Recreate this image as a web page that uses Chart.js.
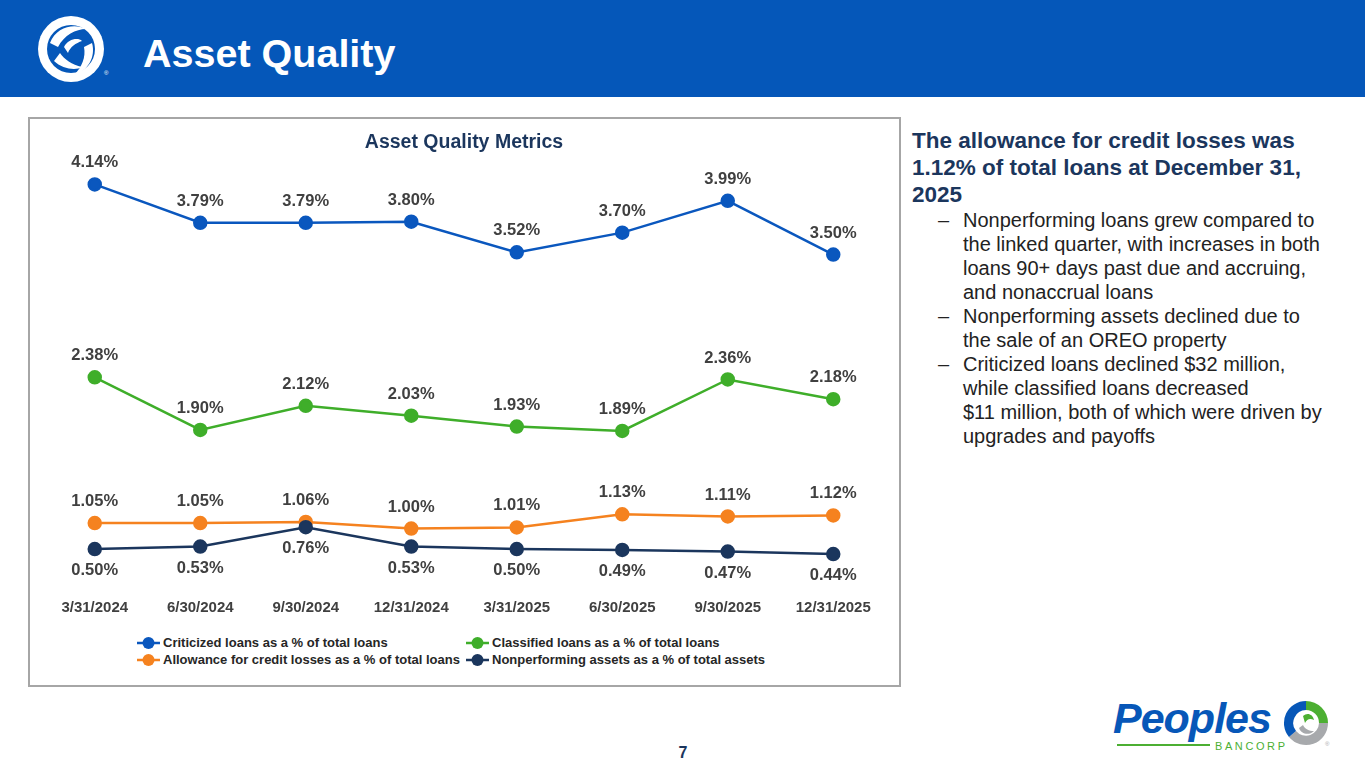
<!DOCTYPE html>
<html><head><meta charset="utf-8">
<script src="https://cdn.jsdelivr.net/npm/chart.js@4/dist/chart.umd.min.js"></script>
<style>
html,body{margin:0;padding:0;width:1365px;height:768px;overflow:hidden;background:#fff;font-family:"Liberation Sans",Arial,Helvetica,sans-serif;}
#header{position:absolute;left:0;top:0;width:1365px;height:97px;background:#0557B9;}
#htitle{position:absolute;left:143px;top:30px;font-size:39.5px;font-weight:bold;color:#fff;line-height:46px;white-space:nowrap;}
#logo{position:absolute;left:34px;top:13px;}
#box{position:absolute;left:28px;top:117px;width:869px;height:566px;border:2px solid #A6A6A6;}
#wrap{position:absolute;left:29px;top:118px;width:871px;height:513px;}
.lg{position:absolute;font-size:13px;font-weight:bold;color:#262626;white-space:nowrap;line-height:16px;}
.mk{position:absolute;width:23px;height:14px;}
#side{position:absolute;left:912px;top:127px;width:440px;}
#side .hd{font-size:22.5px;font-weight:bold;color:#1B365D;line-height:27px;white-space:nowrap;}
#side .bl{position:relative;font-size:20px;color:#222;line-height:24px;padding-left:51px;white-space:nowrap;}
#side .bl .d{position:absolute;left:26px;top:0;}
#pnum{position:absolute;left:676px;top:743px;width:14px;text-align:center;font-size:16px;font-weight:bold;color:#1B365D;line-height:20px;}
#peoples{position:absolute;left:1113px;top:694px;font-size:43px;font-weight:bold;font-style:italic;color:#0757B8;line-height:48px;letter-spacing:-1px;white-space:nowrap;}
#gline{position:absolute;left:1117px;top:744px;width:93px;height:2px;background:#4CAF32;}
#bancorp{position:absolute;left:1215px;top:739px;font-size:11px;color:#4CAF32;letter-spacing:2.6px;line-height:14px;white-space:nowrap;}
#icon{position:absolute;left:1281px;top:698px;}
</style></head>
<body>
<div id="header"></div>
<svg id="logo" width="76" height="72" viewBox="0 0 76 72">
  <circle cx="37" cy="36" r="33" fill="#fff"/>
  <circle cx="37" cy="36" r="24" fill="#0557B9"/>
  <g fill="#fff">
    <path d="M16 30 C22 14 40 10 52 16 C42 16 30 22 24 34 Z"/>
    <path d="M58 30 C62 44 54 58 40 62 C48 54 52 44 50 34 Z"/>
    <path d="M20 48 C28 56 42 58 48 54 C38 52 30 46 26 40 Z"/>
    <path d="M30 34 C34 26 44 24 48 28 C42 30 36 34 34 40 Z"/>
  </g>
  <text x="70" y="62" font-size="6" fill="#fff" font-family="Liberation Sans">®</text>
</svg>
<div id="htitle">Asset Quality</div>
<div id="box"></div>
<div id="wrap"><canvas id="c"></canvas></div>
<div id="legend"></div>
<div id="side">
  <div class="hd">The allowance for credit losses was<br>1.12% of total loans at December 31,<br>2025</div>
  <div class="bl"><span class="d">–</span>Nonperforming loans grew compared to<br>the linked quarter, with increases in both<br>loans 90+ days past due and accruing,<br>and nonaccrual loans</div>
  <div class="bl"><span class="d">–</span>Nonperforming assets declined due to<br>the sale of an OREO property</div>
  <div class="bl"><span class="d">–</span>Criticized loans declined $32 million,<br>while classified loans decreased<br>$11 million, both of which were driven by<br>upgrades and payoffs</div>
</div>
<div id="pnum">7</div>
<div id="peoples">Peoples</div>
<div id="gline"></div>
<div id="bancorp">BANCORP</div>
<svg id="icon" width="50" height="50" viewBox="0 0 50 50">
  <path d="M25 3 A22 22 0 0 1 47 25 L38 25 A13 13 0 0 0 25 12 Z" fill="#4CAF32"/>
  <path d="M47 25 A22 22 0 0 1 8 39 L15 33 A13 13 0 0 0 38 25 Z" fill="#A7A9AC"/>
  <path d="M8 39 A22 22 0 0 1 25 3 L25 12 A13 13 0 0 0 15 33 Z" fill="#0757B8"/>
  <path d="M22 18 C26 14 32 16 33 22 C29 20 26 21 24 25 Z" fill="#4CAF32"/>
  <path d="M18 30 C20 36 28 38 33 33 C28 33 24 31 22 27 Z" fill="#A7A9AC"/>
  <text x="44" y="48" font-size="6" fill="#A7A9AC" font-family="Liberation Sans">®</text>
</svg>
<script>
// ---- data ----
const categories = ["3/31/2024","6/30/2024","9/30/2024","12/31/2024","3/31/2025","6/30/2025","9/30/2025","12/31/2025"];
const criticized = [4.14, 3.79, 3.79, 3.80, 3.52, 3.70, 3.99, 3.50];
const classified = [2.38, 1.90, 2.12, 2.03, 1.93, 1.89, 2.36, 2.18];
const allowance  = [1.05, 1.05, 1.06, 1.00, 1.01, 1.13, 1.11, 1.12];
const nonperforming = [0.50, 0.53, 0.76, 0.53, 0.50, 0.49, 0.47, 0.44];
const seriesNames = [
  "Criticized loans as a % of total loans",
  "Classified loans as a % of total loans",
  "Allowance for credit losses as a % of total loans",
  "Nonperforming assets as a % of total assets"
];
const seriesColors = ["#0A57BE", "#3FAE2A", "#F5821F", "#1B365D"];
const labelSide = ["above", "above", "above", "below"];
const chartTitle = "Asset Quality Metrics";

Chart.defaults.font.family = '"Liberation Sans", Arial, Helvetica, sans-serif';

const labelPlugin = {
  id: 'pointLabels',
  afterDatasetsDraw(chart) {
    const ctx = chart.ctx;
    ctx.save();
    ctx.font = 'bold 16.5px "Liberation Sans", Arial, sans-serif';
    ctx.fillStyle = '#404040';
    ctx.textAlign = 'center';
    ctx.textBaseline = 'middle';
    chart.data.datasets.forEach((ds, i) => {
      const meta = chart.getDatasetMeta(i);
      meta.data.forEach((pt, j) => {
        const dy = labelSide[i] === 'below' ? 21.5 : -21.5;
        ctx.fillText(ds.data[j].toFixed(2) + '%', pt.x, pt.y + dy);
      });
    });
    ctx.restore();
  }
};

function ds(i, data, axis, order) {
  return {
    label: seriesNames[i], data: data, yAxisID: axis, order: order,
    borderColor: seriesColors[i], backgroundColor: seriesColors[i],
    pointBackgroundColor: seriesColors[i], pointBorderColor: seriesColors[i],
    borderWidth: 2.5, pointRadius: 6, pointHoverRadius: 6, tension: 0, clip: false
  };
}

const chart = new Chart(document.getElementById('c'), {
  type: 'line',
  data: {
    labels: categories,
    datasets: [
      ds(0, criticized, 'y', 1),
      ds(1, classified, 'y', 2),
      ds(2, allowance, 'y', 3),
      ds(3, nonperforming, 'y2', 0)
    ]
  },
  options: {
    responsive: true, maintainAspectRatio: false, animation: false,
    events: [],
    layout: { padding: { left: 13, right: 14, top: 0, bottom: 6 } },
    plugins: {
      legend: { display: false },
      tooltip: { enabled: false },
      title: {
        display: true, text: chartTitle, color: '#1B365D',
        font: { size: 19.5, weight: 'bold' }, padding: { top: 13, bottom: 7 }
      }
    },
    scales: {
      x: {
        offset: true,
        grid: { display: false, drawTicks: false },
        border: { display: false },
        ticks: { color: '#404040', font: { size: 15, weight: 'bold' }, padding: 8, maxRotation: 0, autoSkip: false }
      },
      y: { display: false, min: 0.43, max: 4.35 },
      y2: { display: false, min: 0, max: 5.12 }
    }
  },
  plugins: [labelPlugin]
});

// HTML legend built from chart datasets
(function(){
  const pos = [[137, 643], [466, 643], [137, 660], [466, 660]];
  const lg = document.getElementById('legend');
  chart.data.datasets.forEach((d, i) => {
    const [x, y] = pos[i];
    const mk = document.createElementNS('http://www.w3.org/2000/svg', 'svg');
    mk.setAttribute('class', 'mk');
    mk.setAttribute('width', '23'); mk.setAttribute('height', '14');
    mk.style.left = x + 'px'; mk.style.top = (y - 7) + 'px';
    mk.innerHTML = '<line x1="0" y1="7" x2="23" y2="7" stroke="' + d.borderColor + '" stroke-width="2.5"/>' +
                   '<circle cx="11.5" cy="7" r="6" fill="' + d.borderColor + '"/>';
    lg.appendChild(mk);
    const t = document.createElement('div');
    t.className = 'lg';
    t.textContent = d.label;
    t.style.left = (x + 26) + 'px'; t.style.top = (y - 8) + 'px';
    lg.appendChild(t);
  });
})();
</script>
</body></html>
